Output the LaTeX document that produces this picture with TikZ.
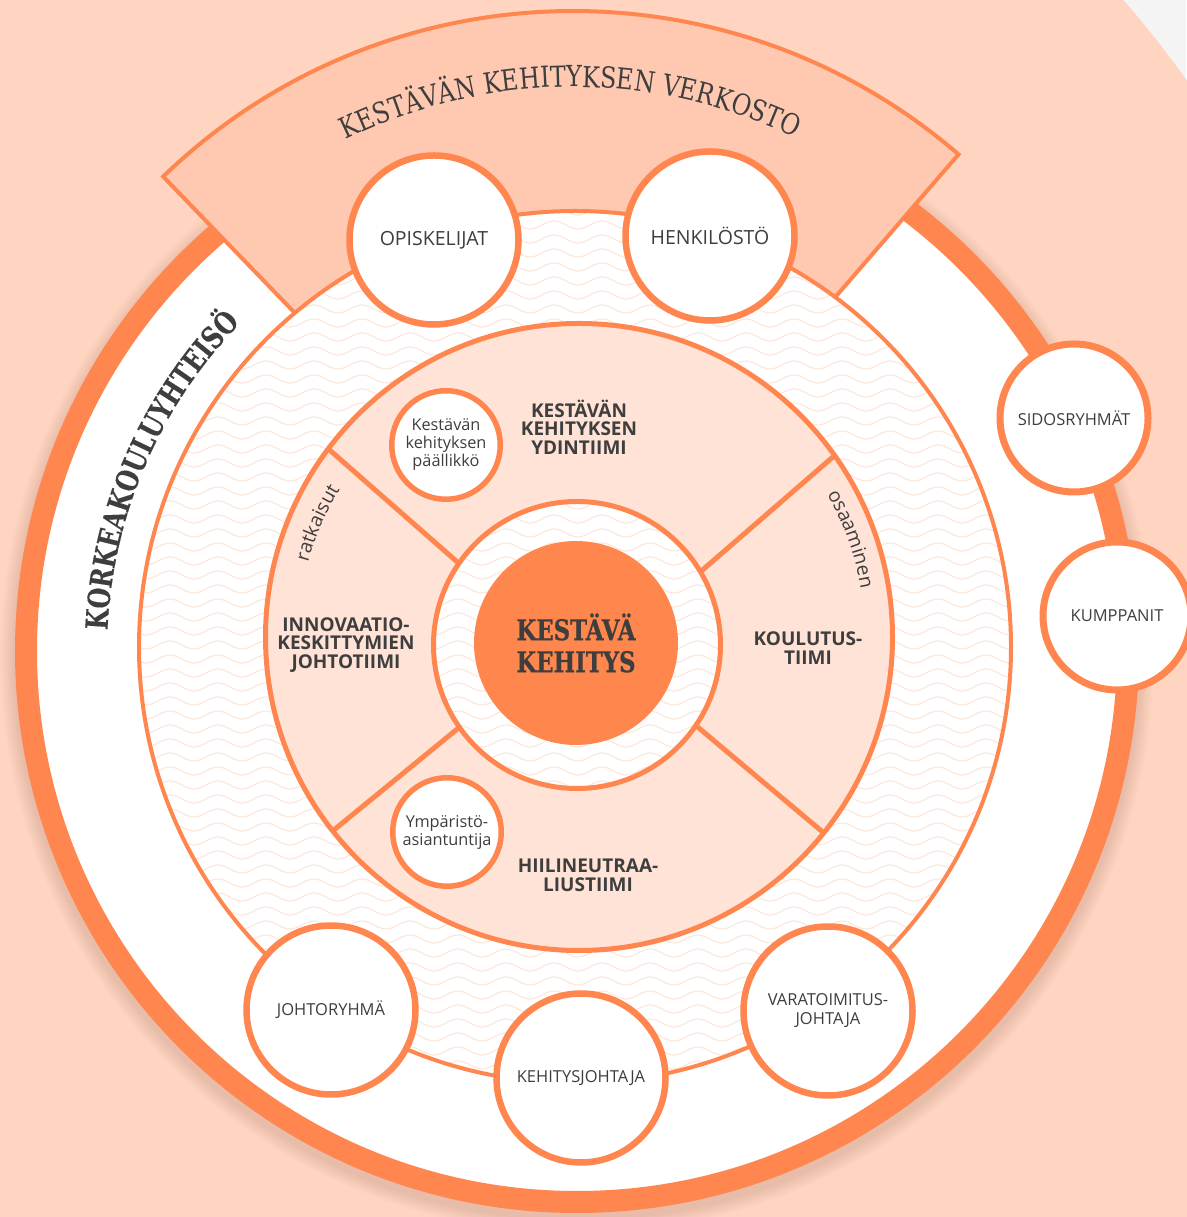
\documentclass[tikz,border=0pt]{standalone}
\usepackage{fontspec}
\newfontfamily\os{Open Sans}
\newfontfamily\slab{DejaVu Serif}[FakeStretch=0.82]
\newfontfamily\slabk{DejaVu Serif}[FakeStretch=0.78,FakeBold=0.3]
\newfontfamily\slabc{DejaVu Serif}[FakeStretch=0.8,FakeBold=0.6]
\usetikzlibrary{decorations.text}
\definecolor{peach}{HTML}{FFD5C2}
\definecolor{grayc}{HTML}{F4F4F5}
\definecolor{orr}{HTML}{FF874F}
\definecolor{bannerf}{HTML}{FFC9B1}
\definecolor{pinkf}{HTML}{FFE3D7}
\definecolor{wavec}{HTML}{FDE6DA}
\definecolor{ctr}{HTML}{FF864D}
\definecolor{txt}{HTML}{3E3E3E}
\definecolor{shad}{HTML}{8A5A40}
\newcommand\wavegrid[3]{%
  \foreach \r in {#1,...,#2}{%
    \draw[wave] (110,{124+14*\r}) \foreach \k in {1,...,#3}{ sin ++(12,4) cos ++(12,-4) sin ++(12,-4) cos ++(12,4) };
  }%
}
\begin{document}
\begin{tikzpicture}[x=1pt,y=1pt,
  bigc/.style={circle, draw=orr, fill=white, line width=6.5, minimum size=169, inner sep=0pt, text=txt, align=center, font=\os\fontsize{16.5}{19}\selectfont},
  topc/.style={bigc, font=\os\fontsize{19.5}{22}\selectfont},
  midc/.style={bigc, line width=7, minimum size=148},
  smallc/.style={bigc, line width=5.5, minimum size=108.5, font=\os\fontsize{16.3}{18}\selectfont},
  team/.style={text=txt, align=center, font=\os\bfseries\fontsize{19}{18.6}\selectfont, inner sep=0pt},
  wave/.style={draw=wavec, line width=1.1},
  divider/.style={draw=orr, line width=5, shorten <=-15pt, shorten >=-15pt}
]
\useasboundingbox (0,0) rectangle (1186,1217);
% background
\fill[grayc] (0,0) rectangle (1186,1217);
\fill[peach] (290,496) circle[radius=1102];
% soft shadow of the big circle
\foreach \k in {1,...,8} \fill[shad, opacity=0.025] (577,560) circle[radius={562+\k*1.8}];
% outer community ring
\draw[orr, line width=22, fill=white] (577,566) circle[radius=551];
\path[decorate, decoration={text along path, text align=center,
  text={|\color{txt}\slabk\bfseries\fontsize{30.5}{30.5}\selectfont|KORKEAKOULUYHTEISÖ}}]
  (577,566) ++(206.6:470) arc[start angle=206.6, end angle=106.6, radius=470];
% banner
\draw[orr, line width=4, fill=bannerf, line join=miter]
  (573,616) ++(49.2:590) arc[start angle=49.2, end angle=134.0, radius=590]
  -- ++(314.0:240) arc[start angle=134.0, end angle=49.2, radius=350] -- cycle;
\path[decorate, decoration={text along path, text align=center,
  text={|\color{txt}\slab\fontsize{29}{29}\selectfont|KESTÄVÄN KEHITYKSEN VERKOSTO}}]
  (573,616) ++(140.3:514) arc[start angle=140.3, end angle=40.3, radius=514];
% wavy ring
\fill[white] (575,570) circle[radius=436];
\begin{scope}
  \clip (575,570) circle[radius=436];
  \wavegrid{0}{63}{19}
\end{scope}
\draw[orr, line width=4] (575,570) circle[radius=436];
% pink disk
\draw[orr, line width=5, fill=pinkf] (579,580) circle[radius=313.5];
\begin{scope}
  \clip (579,580) circle[radius=313.5];
  \draw[divider] (457.3,655) -- (328.8,767.7);
  \draw[divider] (704,648.3) -- (834.6,761.5);
  \draw[divider] (457.3,488) -- (333,386.3);
  \draw[divider] (700,488) -- (826,382.2);
\end{scope}
\path[decorate, decoration={text along path, text align=center,
  text={|\color{txt}\os\fontsize{19.5}{19.5}\selectfont|ratkaisut}}]
  (579,580) ++(206.5:281) arc[start angle=206.5, end angle=106.5, radius=281];
\path[decorate, decoration={text along path, text align=center,
  text={|\color{txt}\os\fontsize{19.5}{19.5}\selectfont|osaaminen}}]
  (579,580) ++(69.8:286) arc[start angle=69.8, end angle=-30.2, radius=286];
% inner white ring
\fill[white] (577,572) circle[radius=143.5];
\begin{scope}
  \clip (577,572) circle[radius=143.5];
  \wavegrid{21}{43}{14}
\end{scope}
\draw[orr, line width=5] (577,572) circle[radius=143.5];
\node[circle, fill=ctr, minimum size=204, inner sep=0pt, text=txt, align=center,
  font=\slabc\bfseries\fontsize{28.5}{32}\selectfont] (kk) at (576,574) {KESTÄVÄ\\KEHITYS};
% team labels
\node[team] (ydin) at (579,790) {KESTÄVÄN\\KEHITYKSEN\\YDINTIIMI};
\node[team] (innov) at (346,572) {INNOVAATIO-\\KESKITTYMIEN\\JOHTOTIIMI};
\node[team] (koul) at (808,569) {KOULUTUS-\\TIIMI};
\node[team] (hiili) at (588,342) {HIILINEUTRAA-\\LIUSTIIMI};
% small circles
\node[smallc] (paall) at (446,772) {Kestävän\\kehityksen\\päällikkö};
\node[smallc] (ymp) at (447,385) {Ympäristö-\\asiantuntija};
% outer circles
\node[topc] (opisk) at (434,977) {OPISKELIJAT};
\node[topc] (henk) at (710,981) {HENKILÖSTÖ};
\node[midc] (sidos) at (1074,799) {SIDOSRYHMÄT};
\node[midc] (kump) at (1117,601) {KUMPPANIT};
\node[bigc] (johto) at (331,207) {JOHTORYHMÄ};
\node[bigc] (kehj) at (581,139) {KEHITYSJOHTAJA};
\node[bigc] (vara) at (828,206) {VARATOIMITUS-\\JOHTAJA};
\end{tikzpicture}
\end{document}
